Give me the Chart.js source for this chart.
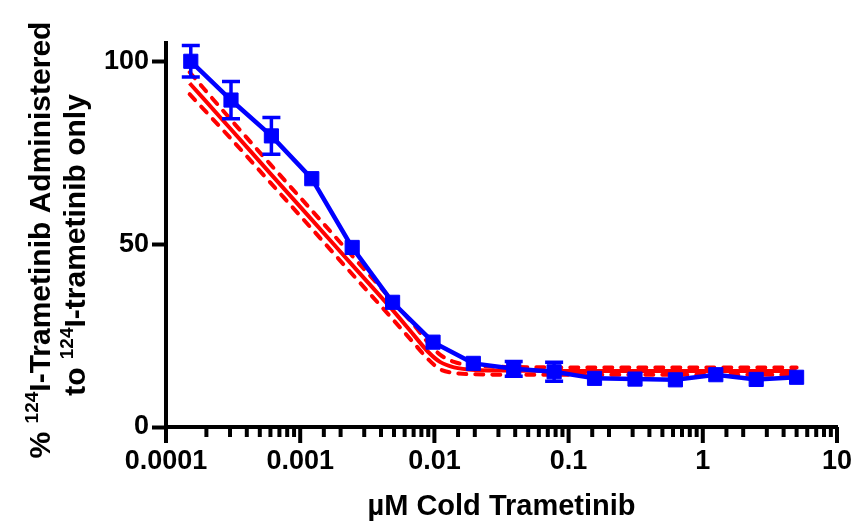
<!DOCTYPE html>
<html>
<head>
<meta charset="utf-8">
<script src="https://cdn.jsdelivr.net/npm/chart.js@4"></script>
<style>
  body { margin: 0; background: #fff; }
  canvas { display: block; }
</style>
</head>
<body>
<canvas id="chart" width="860" height="527"></canvas>
<script>
// measured points (uM cold trametinib, % of 124I-trametinib only)
const concX = [0.000153, 0.000305, 0.00061, 0.00122, 0.00244, 0.00488, 0.00977, 0.0195, 0.039, 0.078, 0.156, 0.3125, 0.625, 1.25, 2.5, 5];
const meanY = [100, 89.4, 79.6, 67.9, 49.1, 34.1, 23.2, 17.4, 15.9, 15.1, 13.3, 13.1, 12.9, 14.3, 13.0, 13.6];
// 0 = bar hidden behind the symbol
const semY = [4.3, 5.1, 5.0, 0, 0, 0, 0, 0, 2.0, 2.6, 0, 0, 0, 0, 0, 0];

// fitted curve and confidence band
const fitX = [0.00015, 0.0003, 0.0006, 0.0012, 0.0024, 0.0048, 0.007, 0.009, 0.011, 0.014, 0.02, 0.04, 0.1, 1, 5];
const fitY = [94, 81.7, 69.3, 57.0, 44.6, 32.3, 25.2, 20.5, 17.8, 16.3, 15.6, 15.4, 15.3, 15.3, 15.3];
const fitUpper = [97, 84.3, 71.8, 59.5, 47.1, 34.8, 28, 23, 19.8, 17.8, 16.8, 16.4, 16.3, 16.3, 16.3];
const fitLower = [91, 79.1, 66.8, 54.5, 42.1, 29.8, 23, 18.5, 15.8, 14.8, 14.4, 14.3, 14.3, 14.3, 14.3];

const xTickLabels = ["0.0001", "0.001", "0.01", "0.1", "1", "10"];
const yTicks = [0, 50, 100];

const BLUE = "#0000FF";
const RED = "#FF0000";

function toPoints(xs, ys) {
  return xs.map((x, i) => ({ x: x, y: ys[i] }));
}

function isDecade(v) {
  const l = Math.log10(v);
  return Math.abs(l - Math.round(l)) < 1e-6;
}

// error bars, x axis tick marks, y axis title
const extras = {
  id: "extras",
  afterDatasetsDraw(chart) {
    const ctx = chart.ctx;
    const xs = chart.scales.x;
    const ys = chart.scales.y;
    ctx.save();
    ctx.strokeStyle = BLUE;
    ctx.lineWidth = 3.5;
    concX.forEach((cx, i) => {
      if (!semY[i]) return;
      const px = xs.getPixelForValue(cx);
      const top = ys.getPixelForValue(meanY[i] + semY[i]);
      const bot = ys.getPixelForValue(meanY[i] - semY[i]);
      ctx.beginPath();
      ctx.moveTo(px, top);
      ctx.lineTo(px, bot);
      ctx.moveTo(px - 9, top);
      ctx.lineTo(px + 9, top);
      ctx.moveTo(px - 9, bot);
      ctx.lineTo(px + 9, bot);
      ctx.stroke();
    });
    ctx.restore();
  },
  afterDraw(chart) {
    const ctx = chart.ctx;
    const xs = chart.scales.x;
    const base = chart.chartArea.bottom;
    ctx.save();
    ctx.strokeStyle = "#000";
    ctx.lineWidth = 4;
    xs.ticks.forEach((t) => {
      const px = xs.getPixelForValue(t.value);
      ctx.beginPath();
      ctx.moveTo(px, base);
      ctx.lineTo(px, base + (isDecade(t.value) ? 16 : 10));
      ctx.stroke();
    });
    ctx.restore();

    // two line y title with superscript 124
    const size = 30;
    const supSize = 19;
    const lines = [
      { parts: ["% ", "124", "I-Trametinib Administered"], base: 50, cy: 240 },
      { parts: ["to ", "124", "I-trametinib only"], base: 85, cy: 245 },
    ];
    ctx.save();
    ctx.fillStyle = "#000";
    ctx.textBaseline = "alphabetic";
    lines.forEach((ln) => {
      const fonts = ln.parts.map((p, i) => `bold ${i === 1 ? supSize : size}px "Liberation Sans", Arial, sans-serif`);
      const widths = ln.parts.map((p, i) => {
        ctx.font = fonts[i];
        return ctx.measureText(p).width;
      });
      const total = widths.reduce((a, b) => a + b, 0);
      ctx.save();
      ctx.translate(ln.base, ln.cy);
      ctx.rotate(-Math.PI / 2);
      let pos = -total / 2;
      ln.parts.forEach((p, i) => {
        ctx.font = fonts[i];
        ctx.fillText(p, pos, i === 1 ? -12 : 0);
        pos += widths[i];
      });
      ctx.restore();
    });
    ctx.restore();
  },
};

const tickFont = { family: '"Liberation Sans", Arial, sans-serif', size: 27, weight: "bold" };

new Chart(document.getElementById("chart"), {
  type: "scatter",
  data: {
    datasets: [
      {
        data: toPoints(concX, meanY),
        showLine: true,
        borderColor: BLUE,
        backgroundColor: BLUE,
        borderWidth: 4.5,
        pointStyle: "rect",
        pointRadius: 10,
        pointBorderWidth: 1,
        pointBorderColor: BLUE,
        pointBackgroundColor: BLUE,
      },
      {
        data: toPoints(fitX, fitUpper),
        showLine: true,
        borderColor: RED,
        borderWidth: 4,
        borderDash: [8, 9],
        borderCapStyle: "round",
        pointRadius: 0,
        cubicInterpolationMode: "monotone",
      },
      {
        data: toPoints(fitX, fitLower),
        showLine: true,
        borderColor: RED,
        borderWidth: 4,
        borderDash: [8, 9],
        borderCapStyle: "round",
        pointRadius: 0,
        cubicInterpolationMode: "monotone",
      },
      {
        data: toPoints(fitX, fitY),
        showLine: true,
        borderColor: RED,
        borderWidth: 4,
        pointRadius: 0,
        cubicInterpolationMode: "monotone",
      },
    ],
  },
  options: {
    responsive: false,
    animation: false,
    devicePixelRatio: 1,
    layout: { padding: { top: 43, right: 23, left: 0, bottom: 0 } },
    plugins: {
      legend: { display: false },
      tooltip: { enabled: false },
    },
    scales: {
      x: {
        type: "logarithmic",
        min: 0.0001,
        max: 10,
        afterFit: (s) => { s.height = 100; },
        border: { display: true, color: "#000", width: 4 },
        grid: { drawOnChartArea: false, tickLength: 16, tickColor: "rgba(0,0,0,0)" },
        ticks: {
          autoSkip: false,
          maxRotation: 0,
          minRotation: 0,
          padding: 2,
          color: "#000",
          font: tickFont,
          callback: (v) => (isDecade(v) ? xTickLabels[Math.round(Math.log10(v)) + 4] : ""),
        },
        title: {
          display: true,
          text: "µM Cold Trametinib",
          color: "#000",
          font: { family: '"Liberation Sans", Arial, sans-serif', size: 29, weight: "bold" },
          padding: { top: 0, bottom: 3 },
        },
      },
      y: {
        min: 0,
        max: 105,
        afterFit: (s) => { s.width = 166; },
        afterBuildTicks: (s) => { s.ticks = yTicks.map((v) => ({ value: v })); },
        border: { display: true, color: "#000", width: 4 },
        grid: { drawOnChartArea: false, tickLength: 14, tickWidth: 4, tickColor: "#000" },
        ticks: {
          padding: 3,
          color: "#000",
          font: tickFont,
        },
      },
    },
  },
  plugins: [extras],
});
</script>
</body>
</html>
